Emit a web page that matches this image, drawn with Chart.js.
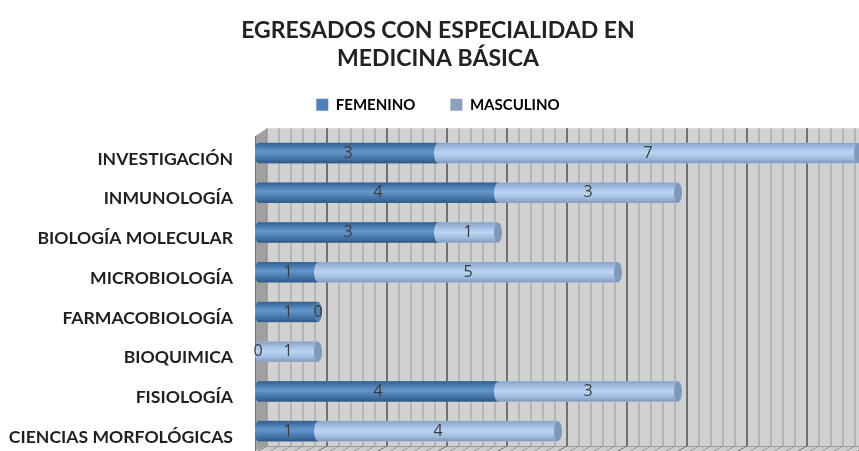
<!DOCTYPE html>
<html><head><meta charset="utf-8">
<script src="https://cdn.jsdelivr.net/npm/chart.js@4"></script>
<style>html,body{margin:0;padding:0;background:#fff}</style>
</head><body>
<canvas id="c" width="859" height="451"></canvas>
<script>
const categories = ['INVESTIGACIÓN','INMUNOLOGÍA','BIOLOGÍA MOLECULAR','MICROBIOLOGÍA','FARMACOBIOLOGÍA','BIOQUIMICA','FISIOLOGÍA','CIENCIAS MORFOLÓGICAS'];
const femenino = [3,4,3,1,1,0,4,1];
const masculino = [7,3,1,5,0,1,3,4];
const seriesNames = ['FEMENINO','MASCULINO'];
const titleLines = ['EGRESADOS CON ESPECIALIDAD EN','MEDICINA BÁSICA'];
const axisMin = 0, axisMax = 10;

const styles = [
  {legend:'#4f81b8', flat:'#4a7db3', cap:'#5580ad',
   stops:[[0,'#33608f'],[0.25,'#4f82b8'],[0.45,'#6797c9'],[0.7,'#4a7cb1'],[1,'#2f5a87']]},
  {legend:'#8aa2c0', flat:'#a6c1e4', cap:'#7f99bd',
   stops:[[0,'#86a2c8'],[0.3,'#aac5e8'],[0.5,'#bcd3f1'],[0.75,'#a3bfe3'],[1,'#8299bd']]}
];

function grad(ctx, yc, h, stops){
  const g = ctx.createLinearGradient(0, yc - h/2, 0, yc + h/2);
  stops.forEach(s => g.addColorStop(s[0], s[1]));
  return g;
}

const headerShift = {
  id:'headerShift',
  afterLayout(chart){
    [chart.titleBlock, chart.legend].forEach(b => { if (b) b.left += 10; });
  }
};

const room3d = {
  id:'room3d',
  beforeDatasetsDraw(chart){
    const {ctx, chartArea:a, scales:{x}} = chart;
    const dx = 9, topY = a.top - 5, floorY = a.bottom - 5;
    ctx.save();
    ctx.fillStyle = '#d1d1d1';
    ctx.fillRect(a.left + dx, topY, a.right - a.left, floorY - topY);
    const n = (axisMax - axisMin) * 5;
    for (let k = 1; k <= n; k++){
      const v = axisMin + k / 5;
      const major = k % 5 === 0;
      const px = Math.round(x.getPixelForValue(v) + dx);
      ctx.strokeStyle = major ? '#717171' : '#ababab';
      ctx.lineWidth = major ? 2 : 1.5;
      ctx.beginPath(); ctx.moveTo(px, topY); ctx.lineTo(px, floorY); ctx.stroke();
    }
    ctx.fillStyle = '#cdcdcd';
    ctx.beginPath();
    ctx.moveTo(a.left - 3, a.bottom); ctx.lineTo(a.left + dx, floorY);
    ctx.lineTo(a.right + dx, floorY); ctx.lineTo(a.right + dx, a.bottom); ctx.closePath(); ctx.fill();
    ctx.strokeStyle = '#9a9a9a'; ctx.lineWidth = 1;
    ctx.beginPath(); ctx.moveTo(a.left + dx, floorY + 0.5); ctx.lineTo(a.right + dx, floorY + 0.5); ctx.stroke();
    for (let k = 0; k <= n; k++){
      const px = x.getPixelForValue(axisMin + k/5) + dx;
      ctx.strokeStyle = k % 5 === 0 ? '#777' : '#9a9a9a';
      ctx.beginPath(); ctx.moveTo(px, floorY); ctx.lineTo(px - dx, a.bottom); ctx.stroke();
    }
    ctx.fillStyle = '#a0a0a0';
    ctx.beginPath();
    ctx.moveTo(a.left - 3, topY + 8); ctx.lineTo(a.left + dx, topY);
    ctx.lineTo(a.left + dx, floorY); ctx.lineTo(a.left - 3, a.bottom); ctx.closePath(); ctx.fill();
    ctx.strokeStyle = '#6f6f6f';
    ctx.beginPath(); ctx.moveTo(a.left - 2.5, topY + 8); ctx.lineTo(a.left - 2.5, a.bottom); ctx.stroke();
    ctx.strokeStyle = '#888';
    ctx.beginPath(); ctx.moveTo(a.left + dx, topY); ctx.lineTo(a.left + dx, floorY); ctx.stroke();
    ctx.restore();
  },
  afterDatasetsDraw(chart){
    const {ctx} = chart;
    const m0 = chart.getDatasetMeta(0).data, m1 = chart.getDatasetMeta(1).data;
    const vals = [femenino, masculino];
    ctx.save();
    categories.forEach((c, i) => {
      const els = [m0[i], m1[i]];
      const h = els[0].height, yc = els[0].y;
      els.forEach((el, d) => {
        if (vals[d][i] <= 0) return;
        ctx.fillStyle = grad(ctx, yc, h, styles[d].stops);
        ctx.fillRect(el.base, yc - h/2, el.x - el.base, h);
      });
      const first = vals[0][i] > 0 ? 0 : 1;
      ctx.fillStyle = grad(ctx, yc, h, styles[first].stops);
      ctx.beginPath(); ctx.ellipse(els[first].base, yc, 3, h/2, 0, Math.PI/2, Math.PI*1.5); ctx.fill();
      if (vals[0][i] > 0 && vals[1][i] > 0){
        ctx.fillStyle = grad(ctx, yc, h, styles[1].stops);
        ctx.beginPath(); ctx.ellipse(els[1].base, yc, 4, h/2, 0, 0, Math.PI*2); ctx.fill();
      }
      const last = vals[1][i] > 0 ? 1 : 0;
      const ex = els[last].x;
      ctx.fillStyle = styles[last].cap;
      ctx.beginPath(); ctx.ellipse(ex, yc, 4, h/2, 0, 0, Math.PI*2); ctx.fill();
    });
    ctx.fillStyle = '#3b3b3b';
    ctx.font = '16px "Open Sans"';
    ctx.textAlign = 'center'; ctx.textBaseline = 'middle';
    [m0, m1].forEach((m, d) => {
      m.forEach((el, i) => {
        ctx.fillText(String(vals[d][i]), (el.x + el.base) / 2, el.y);
      });
    });
    ctx.restore();
  }
};

new Chart(document.getElementById('c'), {
  type:'bar',
  data:{
    labels: categories,
    datasets:[
      {label: seriesNames[0], data: femenino, backgroundColor: styles[0].flat, borderWidth:0},
      {label: seriesNames[1], data: masculino, backgroundColor: styles[1].flat, borderWidth:0}
    ]
  },
  options:{
    indexAxis:'y',
    responsive:false,
    animation:false,
    events:[],
    layout:{padding:{left:8, right:1, top:0, bottom:0}},
    datasets:{bar:{barThickness:20}},
    plugins:{
      title:{display:true, text:titleLines, color:'#222',
        font:{family:'Lato', size:23, weight:'bold', lineHeight:1.2},
        padding:{top:17, bottom:-10}},
      legend:{display:true, position:'top',
        labels:{color:'#222', font:{family:'Lato', size:15, weight:'bold'},
          boxWidth:12, boxHeight:12, padding:35,
          generateLabels(chart){
            return chart.data.datasets.map((ds, i) => ({
              text: ds.label, fillStyle: styles[i].legend, strokeStyle: styles[i].legend,
              lineWidth:0, datasetIndex:i, hidden:false
            }));
          }}},
      tooltip:{enabled:false}
    },
    scales:{
      x:{position:'top', stacked:true, min:axisMin, max:axisMax, display:true,
        ticks:{display:false}, grid:{display:false, drawTicks:false}, border:{display:false},
        afterFit(s){ s.height = 11; }},
      y:{stacked:true, grid:{display:false, drawTicks:false}, border:{display:false},
        ticks:{color:'#1f1f1f', font:{family:'Lato', size:17.6, weight:'bold'}, padding:25, labelOffset:6},
        afterFit(s){ s.width = 250; s.paddingTop = 0; s.paddingBottom = 0; }}
    }
  },
  plugins:[headerShift, room3d]
});
</script>
</body></html>
